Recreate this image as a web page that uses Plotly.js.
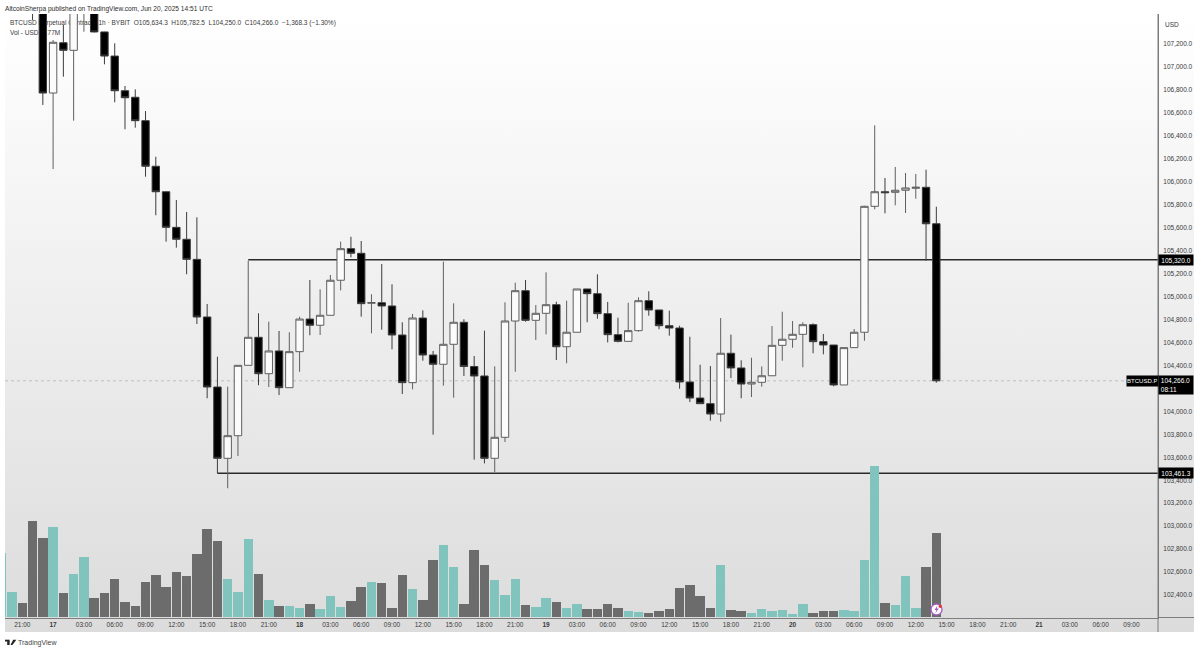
<!DOCTYPE html>
<html>
<head>
<meta charset="utf-8">
<script src="https://cdn.plot.ly/plotly-3.0.1.min.js"></script>
<style>
html,body{margin:0;padding:0;background:#fff;width:1200px;height:652px;overflow:hidden}
#bg{position:absolute;left:5px;top:14px;width:1189px;height:618px;background:linear-gradient(#ffffff,#dcdcdc)}
#chart{position:absolute;left:0;top:0;width:1200px;height:652px}
</style>
</head>
<body>
<div id="bg"></div>
<div id="chart"></div>
<script>
const times = [
'2025-06-16 19:00','2025-06-16 20:00','2025-06-16 21:00','2025-06-16 22:00','2025-06-16 23:00',
'2025-06-17 00:00','2025-06-17 01:00','2025-06-17 02:00','2025-06-17 03:00','2025-06-17 04:00','2025-06-17 05:00','2025-06-17 06:00','2025-06-17 07:00','2025-06-17 08:00','2025-06-17 09:00','2025-06-17 10:00','2025-06-17 11:00','2025-06-17 12:00','2025-06-17 13:00','2025-06-17 14:00','2025-06-17 15:00','2025-06-17 16:00','2025-06-17 17:00','2025-06-17 18:00','2025-06-17 19:00','2025-06-17 20:00','2025-06-17 21:00','2025-06-17 22:00','2025-06-17 23:00',
'2025-06-18 00:00','2025-06-18 01:00','2025-06-18 02:00','2025-06-18 03:00','2025-06-18 04:00','2025-06-18 05:00','2025-06-18 06:00','2025-06-18 07:00','2025-06-18 08:00','2025-06-18 09:00','2025-06-18 10:00','2025-06-18 11:00','2025-06-18 12:00','2025-06-18 13:00','2025-06-18 14:00','2025-06-18 15:00','2025-06-18 16:00','2025-06-18 17:00','2025-06-18 18:00','2025-06-18 19:00','2025-06-18 20:00','2025-06-18 21:00','2025-06-18 22:00','2025-06-18 23:00',
'2025-06-19 00:00','2025-06-19 01:00','2025-06-19 02:00','2025-06-19 03:00','2025-06-19 04:00','2025-06-19 05:00','2025-06-19 06:00','2025-06-19 07:00','2025-06-19 08:00','2025-06-19 09:00','2025-06-19 10:00','2025-06-19 11:00','2025-06-19 12:00','2025-06-19 13:00','2025-06-19 14:00','2025-06-19 15:00','2025-06-19 16:00','2025-06-19 17:00','2025-06-19 18:00','2025-06-19 19:00','2025-06-19 20:00','2025-06-19 21:00','2025-06-19 22:00','2025-06-19 23:00',
'2025-06-20 00:00','2025-06-20 01:00','2025-06-20 02:00','2025-06-20 03:00','2025-06-20 04:00','2025-06-20 05:00','2025-06-20 06:00','2025-06-20 07:00','2025-06-20 08:00','2025-06-20 09:00','2025-06-20 10:00','2025-06-20 11:00','2025-06-20 12:00','2025-06-20 13:00','2025-06-20 14:00'];

const opens = [107480,107900,108000,107850,107600,
106773,107211,107145,107500,107620,107305,107095,106793,106736,106532,106135,105913,105603,105499,105324,104822,104212,103591,103788,104401,104645,104328,104526,104206,
104520,104804,104750,104837,105142,105417,105377,104941,104946,104918,104665,104250,104813,104491,104410,104584,104776,104391,104308,103591,103774,104787,105051,104793,
104854,104929,104563,104689,105066,105025,104851,104668,104610,104703,104964,104883,104746,104726,104256,104116,104067,103977,104506,104378,104238,104253,104310,104575,
104628,104671,104755,104607,104578,104230,104555,104689,105786,105913,105908,105926,105943,105952,105634.3];

const highs = [107980,108050,108040,107900,107650,
107235,107366,107600,107680,107650,107307,107206,106834,106805,106616,106218,105913,105841,105737,105690,104935,104476,104215,104401,105312,104854,104781,104700,104689,
104825,105144,105063,105188,105478,105521,105484,105020,105284,105107,104776,104848,104880,104526,105304,104941,104802,104482,104703,104392,104950,105121,105144,104926,
105211,104955,104964,105066,105066,105194,104953,104816,104946,104993,105046,104883,104877,104746,104650,104406,104395,104813,104668,104445,104467,104391,104743,104868,
104787,104776,104767,104674,104578,104555,104717,105791,106492,106033,106129,106076,106068,106105,105782.5];

const lows = [107470,107850,107800,107409,106669,
106111,106915,106532,107307,107300,107023,106692,106457,106471,106044,105708,105478,105426,105194,104761,104114,103460,103330,103611,104401,104227,104212,104142,104206,
104345,104663,104665,104837,105054,105342,104825,104680,104711,104540,104151,104192,104441,103797,104224,104119,104308,103579,103547,103472,103733,104345,104781,104622,
104671,104447,104419,104689,104776,104807,104601,104601,104610,104694,104833,104715,104659,104197,104081,104066,103919,103910,104290,104114,104125,104215,104310,104441,
104554,104384,104506,104497,104218,104230,104555,104615,105760,105725,105795,105728,105852,105312,104250];

const closes = [107900,108000,107850,107600,106773,
107215,107145,107500,107620,107305,107095,106793,106732,106532,106135,105913,105603,105499,105324,104822,104212,103591,103788,104401,104645,104328,104526,104206,104520,
104804,104750,104837,105142,105417,105377,104938,104948,104918,104665,104250,104813,104491,104410,104584,104776,104391,104308,103591,103774,104787,105051,104793,104854,
104929,104563,104689,105066,105025,104851,104668,104610,104703,104964,104883,104746,104726,104256,104116,104067,103977,104506,104378,104238,104253,104310,104575,104628,
104671,104755,104607,104578,104230,104555,104689,105786,105913,105905,105926,105946,105952,105634,104266];

const volumes = [6.47,2.57,1.47,9.6,7.93,
9.03,2.47,4.33,6.0,1.9,2.47,3.8,1.53,1.13,3.57,4.23,3.07,4.57,4.17,6.33,8.87,7.6,3.83,2.53,7.8,4.33,1.73,1.13,1.13,
0.93,1.37,0.8,2.13,1.0,1.67,3.07,3.53,3.47,0.97,4.23,2.8,1.73,5.73,7.23,5.07,1.33,6.73,5.2,3.73,2.27,3.83,1.23,1.07,
1.9,1.57,0.93,1.3,0.87,0.8,1.37,0.97,0.67,0.57,0.4,0.63,0.8,2.97,3.23,2.17,0.97,5.2,0.73,0.63,0.47,0.83,0.67,0.73,
0.33,1.33,0.47,0.67,0.67,0.7,0.63,5.73,15.1,1.47,1.2,4.13,0.93,5.0,8.4];

const xTickValues = ['2025-06-16 21:00','2025-06-17 00:00','2025-06-17 03:00','2025-06-17 06:00','2025-06-17 09:00','2025-06-17 12:00','2025-06-17 15:00','2025-06-17 18:00','2025-06-17 21:00','2025-06-18 00:00','2025-06-18 03:00','2025-06-18 06:00','2025-06-18 09:00','2025-06-18 12:00','2025-06-18 15:00','2025-06-18 18:00','2025-06-18 21:00','2025-06-19 00:00','2025-06-19 03:00','2025-06-19 06:00','2025-06-19 09:00','2025-06-19 12:00','2025-06-19 15:00','2025-06-19 18:00','2025-06-19 21:00','2025-06-20 00:00','2025-06-20 03:00','2025-06-20 06:00','2025-06-20 09:00','2025-06-20 12:00','2025-06-20 15:00','2025-06-20 18:00','2025-06-20 21:00','2025-06-21 00:00','2025-06-21 03:00','2025-06-21 06:00','2025-06-21 09:00'];
const xTickLabels = ['21:00','<b>17</b>','03:00','06:00','09:00','12:00','15:00','18:00','21:00','<b>18</b>','03:00','06:00','09:00','12:00','15:00','18:00','21:00','<b>19</b>','03:00','06:00','09:00','12:00','15:00','18:00','21:00','<b>20</b>','03:00','06:00','09:00','12:00','15:00','18:00','21:00','<b>21</b>','03:00','06:00','09:00'];
const yTickValues = [102400,102600,102800,103000,103200,103400,103600,103800,104000,104400,104600,104800,105000,105200,105400,105600,105800,106000,106200,106400,106600,106800,107000,107200];
const yTickLabels = ['102,400.0','102,600.0','102,800.0','103,000.0','103,200.0','103,400.0','103,600.0','103,800.0','104,000.0','104,400.0','104,600.0','104,800.0','105,000.0','105,200.0','105,400.0','105,600.0','105,800.0','106,000.0','106,200.0','106,400.0','106,600.0','106,800.0','107,000.0','107,200.0'];

const resistance = 105320, support = 103461.3, lastPrice = 104266;
const resistanceStart = '2025-06-17 19:00', supportStart = '2025-06-17 16:00';
const headerText = 'AltcoinSherpa published on TradingView.com, Jun 20, 2025 14:51 UTC';
const legendLine1 = 'BTCUSD Perpetual Contract · 1h · BYBIT  O105,634.3  H105,782.5  L104,250.0  C104,266.0  −1,368.3 (−1.30%)';
const legendLine2 = 'Vol - USD  8.77M';

const FONT = '"Liberation Sans", Arial, sans-serif';
const TEXT = '#3a3a3a';
const X_RANGE = ['2025-06-16 19:19','2025-06-21 11:35'];
const W = 1200, H = 652, L = 5, R = 1158, T = 14, B = 618;
const px = v => (v - L) / (R - L);
const py = v => (B - v) / (B - T);

const volumeTrace = {
  type: 'bar', x: times, y: volumes, yaxis: 'y', xaxis: 'x',
  width: 3600000 * 0.92,
  marker: {color: closes.map((c, i) => c >= opens[i] ? '#80c4bd' : '#6c6c6c'), line: {width: 0}},
  hoverinfo: 'skip', showlegend: false
};
const candleTrace = {
  type: 'candlestick', x: times, open: opens, high: highs, low: lows, close: closes,
  xaxis: 'x', yaxis: 'y2',
  increasing: {line: {color: '#5f5f5f', width: 1}, fillcolor: '#fbfbfb'},
  decreasing: {line: {color: '#3c3c3c', width: 1}, fillcolor: '#000000'},
  hoverinfo: 'skip', showlegend: false
};

function tag(text, x, yVal, w, h, extra) {
  return Object.assign({
    text: text, xref: 'paper', x: x, yref: 'y2', y: yVal, xanchor: 'left', yanchor: 'middle',
    showarrow: false, bgcolor: '#000', font: {family: FONT, size: 6.5, color: '#fff'},
    width: w, height: h, align: 'center', borderpad: 0
  }, extra || {});
}

const layout = {
  width: W, height: H, autosize: false,
  margin: {l: L, r: W - R, t: T, b: H - B, pad: 0},
  paper_bgcolor: 'rgba(0,0,0,0)', plot_bgcolor: 'rgba(0,0,0,0)',
  showlegend: false, bargap: 0, dragmode: false, boxgap: 0.2, boxgroupgap: 0.1,
  font: {family: FONT, size: 6.5, color: TEXT},
  xaxis: {
    type: 'date', range: X_RANGE, rangeslider: {visible: false}, showgrid: false, zeroline: false,
    tickmode: 'array', tickvals: xTickValues, ticktext: xTickLabels, ticks: '', ticklen: 0,
    tickangle: 0, tickfont: {family: FONT, size: 6.5, color: TEXT},
    showline: true, linecolor: '#7d7d7d', linewidth: 1, fixedrange: true
  },
  yaxis: {range: [-0.07, 60.33], visible: false, showgrid: false, zeroline: false, fixedrange: true},
  yaxis2: {
    range: [102199.9, 107461.3], overlaying: 'y', side: 'right', showgrid: false, zeroline: false,
    tickmode: 'array', tickvals: yTickValues, ticktext: yTickLabels, ticks: '', ticklen: 0,
    tickfont: {family: FONT, size: 6.5, color: TEXT}, fixedrange: true,
    showline: true, linecolor: '#7d7d7d', linewidth: 1, ticklabelstandoff: 3
  },
  shapes: [
    {type: 'line', layer: 'below', xref: 'paper', x0: 0, x1: px(1128), yref: 'y2', y0: lastPrice, y1: lastPrice, line: {color: '#a0a0a0', width: 0.6, dash: 'dot'}},
    {type: 'line', layer: 'below', xref: 'x', x0: resistanceStart, x1: X_RANGE[1], yref: 'y2', y0: resistance, y1: resistance, line: {color: '#2a2a2a', width: 1.4}},
    {type: 'line', layer: 'below', xref: 'x', x0: supportStart, x1: X_RANGE[1], yref: 'y2', y0: support, y1: support, line: {color: '#2a2a2a', width: 1.4}},
    {type: 'rect', layer: 'below', xref: 'paper', yref: 'paper', x0: px(7), x1: px(340), y0: py(32), y1: py(18), line: {width: 0}, fillcolor: 'rgba(0,0,0,0)',
      label: {text: legendLine1, textposition: 'top left', padding: 0, font: {family: FONT, size: 6.5, color: TEXT}}},
    {type: 'rect', layer: 'below', xref: 'paper', yref: 'paper', x0: px(7), x1: px(120), y0: py(40), y1: py(28), line: {width: 0}, fillcolor: 'rgba(0,0,0,0)',
      label: {text: legendLine2, textposition: 'top left', padding: 0, font: {family: FONT, size: 6.5, color: TEXT}}},
    {type: 'line', xref: 'paper', yref: 'paper', x0: px(1158), x1: px(1158), y0: py(14), y1: py(632), line: {color: '#7d7d7d', width: 1}},
    {type: 'line', xref: 'paper', yref: 'paper', x0: px(1158), x1: px(1194), y0: py(617.5), y1: py(617.5), line: {color: '#7d7d7d', width: 1}},
    {type: 'circle', xref: 'paper', yref: 'paper', x0: px(931), x1: px(942), y0: py(615), y1: py(604), line: {color: '#a45cc4', width: 1.3}, fillcolor: '#ffffff'},
    {type: 'path', xref: 'paper', yref: 'paper', line: {width: 0}, fillcolor: '#a45cc4',
      path: `M${px(937.5)},${py(605.5)} L${px(934.5)},${py(610)} L${px(936.4)},${py(610)} L${px(935.2)},${py(613.5)} L${px(938.8)},${py(608.6)} L${px(936.8)},${py(608.6)} Z`},
    {type: 'circle', xref: 'paper', yref: 'paper', x0: px(938.5), x1: px(942), y0: py(608), y1: py(604.5), line: {width: 0}, fillcolor: '#e0383e'},
    {type: 'rect', xref: 'paper', yref: 'paper', x0: px(5), x1: px(9.6), y0: py(641.5), y1: py(639.7), line: {width: 0}, fillcolor: '#222'},
    {type: 'rect', xref: 'paper', yref: 'paper', x0: px(7.2), x1: px(9.6), y0: py(645), y1: py(641), line: {width: 0}, fillcolor: '#222'},
    {type: 'path', xref: 'paper', yref: 'paper', line: {width: 0}, fillcolor: '#222',
      path: `M${px(10.5)},${py(645)} L${px(12.4)},${py(645)} L${px(16.4)},${py(639.7)} L${px(13.2)},${py(639.7)} Z`}
  ],
  annotations: [
    {text: headerText, xref: 'paper', yref: 'paper', x: px(3), y: py(8.5), xanchor: 'left', yanchor: 'middle', showarrow: false, font: {family: FONT, size: 6.6, color: '#2e2e2e'}},
    {text: 'USD', xref: 'paper', yref: 'paper', x: px(1163), y: py(24.5), xanchor: 'left', yanchor: 'middle', showarrow: false, font: {family: FONT, size: 6.5, color: TEXT}},
    tag('105,320.0', px(1157.5), resistance, 34, 10),
    tag('103,461.3', px(1157.5), support, 34, 10),
    tag('&nbsp;104,266.0<br>&nbsp;08:11', px(1157.5), lastPrice, 34, 18, {yshift: -4, align: 'left'}),
    tag('BTCUSD.P', px(1125.5), lastPrice, 30.5, 10, {font: {family: FONT, size: 6, color: '#fff'}}),
    {text: 'TradingView', xref: 'paper', yref: 'paper', x: px(16), y: py(642.5), xanchor: 'left', yanchor: 'middle', showarrow: false, font: {family: FONT, size: 7, color: '#444'}}
  ]
};

Plotly.newPlot('chart', [volumeTrace, candleTrace], layout, {displayModeBar: false, staticPlot: true});
</script>
</body>
</html>
